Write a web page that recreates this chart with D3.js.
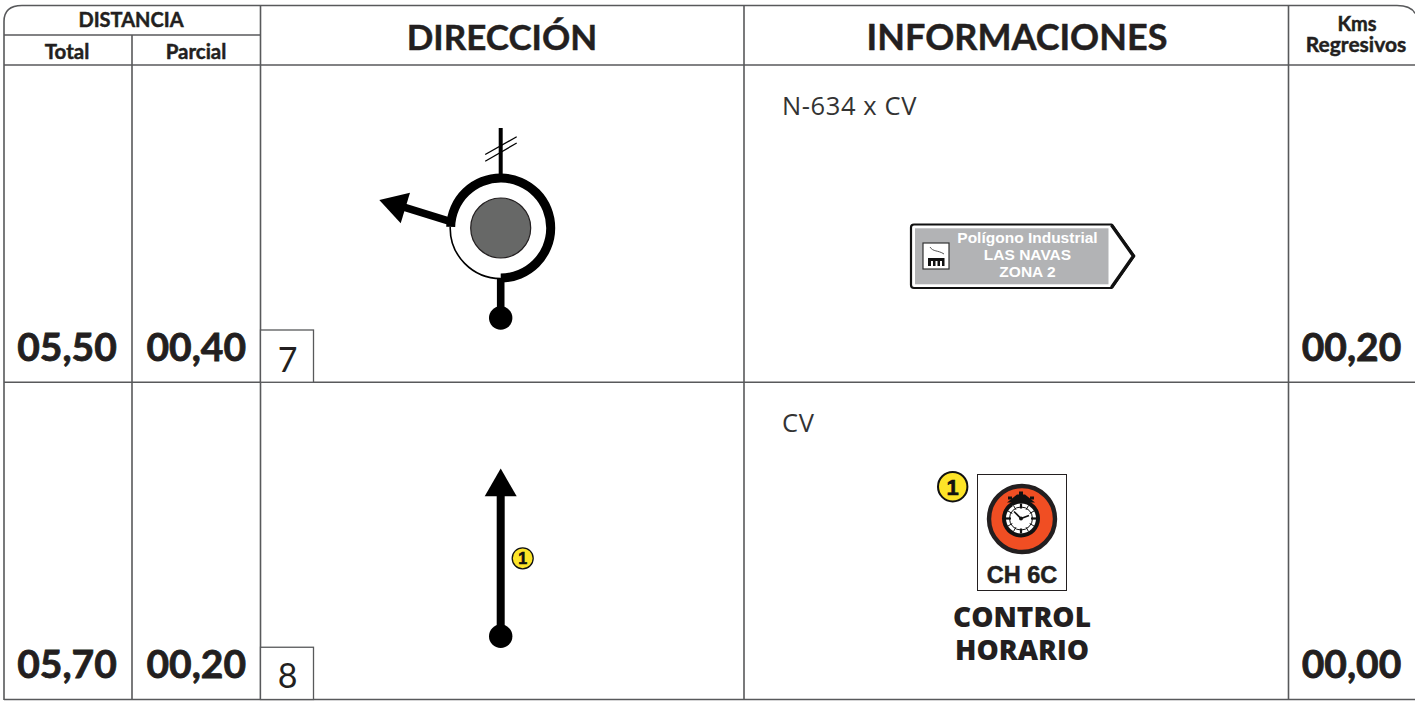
<!DOCTYPE html>
<html>
<head>
<meta charset="utf-8">
<script src="https://cdnjs.cloudflare.com/ajax/libs/d3/7.8.5/d3.min.js"></script>
<style>
html, body { margin: 0; padding: 0; background: #fff; overflow: hidden; }
svg { display: block; }
text { fill: #231f20; font-family: Lato, sans-serif; }
.head { font-weight: 700; stroke: #231f20; stroke-width: 0.45; }
.val { font-weight: 700; font-size: 39px; stroke: #231f20; stroke-width: 0.8; }
.sign { font-family: "Liberation Sans", Arial, sans-serif; font-weight: 700; }
</style>
</head>
<body>
<svg id="chart" width="1415" height="702"></svg>
<script>
var steps = ["7", "8"];
var totals = ["05,50", "05,70"];
var partials = ["00,40", "00,20"];
var regressive = ["00,20", "00,00"];
var roads = ["N-634 x CV", "CV"];
var columns = ["total", "parcial", "direccion", "info", "kms"];
var signLines = ["Polígono Industrial", "LAS NAVAS", "ZONA 2"];
var controlLines = ["CONTROL", "HORARIO"];

var svg = d3.select("#chart");
var lineCol = "#58595b";

var left = 4, right = 1415, top_ = 5.5, headBottom = 65, bottom = 700;

var y = d3.scaleBand().domain(steps).range([headBottom, bottom - 0.5]);
var colX = d3.scaleOrdinal().domain(columns).range([4, 132, 260.5, 744, 1288.5]);
var colEnd = function(c) {
    var i = columns.indexOf(c);
    return i == columns.length - 1 ? 1414.5 : colX(columns[i + 1]);
};

// ----- GRID -----
var grid = svg.append("g").attr("fill", "none").attr("stroke", lineCol).attr("stroke-width", 1.6);

grid.append("path").attr("d",
    "M" + left + " " + bottom + " L" + left + " " + (top_ + 16) +
    " Q" + left + " " + top_ + " " + (left + 18) + " " + top_ +
    " L" + (right - 18) + " " + top_ +
    " Q" + (right - 4) + " " + top_ + " " + right + " " + (top_ + 8));

grid.append("line").attr("x1", left).attr("x2", right).attr("y1", headBottom).attr("y2", headBottom);
grid.append("line").attr("x1", left).attr("x2", colX("direccion")).attr("y1", 35).attr("y2", 35);

grid.selectAll("line.row").data(steps).enter().append("line").attr("class", "row")
    .attr("x1", left).attr("x2", right)
    .attr("y1", function(d) { return y(d) + y.bandwidth(); })
    .attr("y2", function(d) { return y(d) + y.bandwidth(); });

grid.selectAll("line.col").data(["direccion", "info", "kms"]).enter().append("line").attr("class", "col")
    .attr("x1", colX).attr("x2", colX).attr("y1", top_).attr("y2", bottom);
grid.append("line").attr("x1", colX("parcial")).attr("x2", colX("parcial")).attr("y1", 35).attr("y2", bottom);

// ----- HEADERS -----
function head(txt, x, yy, size) {
    svg.append("text").attr("class", "head").attr("text-anchor", "middle")
        .attr("x", x).attr("y", yy).attr("font-size", size).text(txt);
}
head("DISTANCIA", 131, 27, 20);
head("Total", 67, 59, 20.5);
head("Parcial", 196, 59, 20.5);
head("DIRECCIÓN", 502, 50, 35);
head("INFORMACIONES", 1017, 50, 36);
head("Kms", 1357, 31, 20);
head("Regresivos", 1356, 52, 21);

// ----- ROW VALUES -----
var rows = svg.selectAll("g.step").data(steps).enter().append("g").attr("class", "step")
    .attr("transform", function(d) { return "translate(0," + y(d) + ")"; });

function valueColumn(values, col) {
    rows.append("text").attr("class", "val").attr("text-anchor", "middle")
        .attr("x", (colX(col) + colEnd(col)) / 2 + (col == "total" ? -1 : 0))
        .attr("y", 296)
        .text(function(d, i) { return values[i]; });
}
valueColumn(totals, "total");
valueColumn(partials, "parcial");
valueColumn(regressive, "kms");

rows.append("rect")
    .attr("x", colX("direccion")).attr("y", 265).attr("width", 53).attr("height", y.bandwidth() - 265)
    .attr("fill", "#fff").attr("stroke", lineCol).attr("stroke-width", 1.3);
rows.append("text").attr("text-anchor", "middle").attr("font-size", 34)
    .attr("x", colX("direccion") + 27).attr("y", function(d, i) { return 307 - i; })
    .text(function(d) { return d; });
rows.append("text").attr("font-size", 25.5).attr("letter-spacing", 0.6)
    .style("font-family", "'Open Sans', sans-serif").style("fill", "#333")
    .attr("x", 782).attr("y", 50)
    .text(function(d, i) { return roads[i]; });

// ----- DIRECTION: ROUNDABOUT -----
var round = svg.append("g").attr("transform", "translate(500.7," + (y("7") + 163) + ")");
var arc = d3.arc();
round.append("path").attr("fill", "none").attr("stroke", "#000").attr("stroke-width", 1.6)
    .attr("d", arc({ innerRadius: 50.5, outerRadius: 50.5, startAngle: Math.PI, endAngle: 2 * Math.PI - 1.55 }));
round.append("path").attr("fill", "#000")
    .attr("d", arc({ innerRadius: 45.5, outerRadius: 54.5, startAngle: -1.55, endAngle: Math.PI }));
round.append("circle").attr("r", 30).attr("fill", "#676867").attr("stroke", "#231f20").attr("stroke-width", 1.2);
round.append("line").attr("y1", -100).attr("y2", -50).attr("stroke", "#000").attr("stroke-width", 4);
round.selectAll("line.tick").data([0, 1]).enter().append("line").attr("class", "tick")
    .attr("x1", -15.5).attr("x2", 16)
    .attr("y1", function(d) { return d * 6.8 - 73.5; })
    .attr("y2", function(d) { return d * 6.2 - 91.2; })
    .attr("stroke", "#000").attr("stroke-width", 1.3);
round.append("line").attr("y1", 50).attr("y2", 90).attr("stroke", "#000").attr("stroke-width", 7.6);
round.append("circle").attr("cy", 90).attr("r", 11.7).attr("fill", "#000");
round.append("line").attr("x1", -50).attr("y1", -6.3).attr("x2", -96).attr("y2", -20.7)
    .attr("stroke", "#000").attr("stroke-width", 7.5);
round.append("path").attr("fill", "#000").attr("d", "M-121.4 -28 L-90.7 -35.3 L-100 -4.7 Z");

// ----- DIRECTION: STRAIGHT -----
var straight = svg.append("g").attr("transform", "translate(500.7," + y("8") + ")");
straight.append("line").attr("y1", 110).attr("y2", 254).attr("stroke", "#000").attr("stroke-width", 8);
straight.append("path").attr("fill", "#000").attr("d", "M0 86.3 L16 114 L-16 114 Z");
straight.append("circle").attr("cy", 254).attr("r", 11.7).attr("fill", "#000");

function badge(x, yy, r, size) {
    svg.append("circle").attr("cx", x).attr("cy", yy).attr("r", r)
        .attr("fill", "#fde428").attr("stroke", "#111").attr("stroke-width", r > 12 ? 2 : 1.3);
    svg.append("text").attr("class", "sign").attr("text-anchor", "middle")
        .attr("x", x).attr("y", yy + size * 0.36).attr("font-size", size)
        .style("fill", "#111").style("stroke", "#111").style("stroke-width", 0.6).text("1");
}
badge(522.7, 558.3, 10.5, 16);

// ----- INFO: ROAD SIGN -----
var sign = svg.append("g");
sign.append("path").attr("fill", "#fff").attr("stroke", "#111").attr("stroke-width", 2.2).attr("stroke-linejoin", "round")
    .attr("d", "M914 224.5 L1111.5 224.5 L1134 256 L1111.5 288 L914 288 Q911 288 911 285 L911 227.5 Q911 224.5 914 224.5 Z");
sign.append("path").attr("fill", "none").attr("stroke", "#111").attr("stroke-width", 3.4)
    .attr("d", "M1111.5 225 L1133.5 256 L1111.5 287.5");
sign.append("rect").attr("x", 915).attr("y", 228.3).attr("width", 193.5).attr("height", 56).attr("fill", "#b2b3b5");
sign.append("rect").attr("x", 923).attr("y", 243).attr("width", 26).attr("height", 26)
    .attr("fill", "#fff").attr("stroke", "#333").attr("stroke-width", 1.2);
sign.append("path").attr("fill", "#111")
    .attr("d", "M928 266 L928 258 L944.5 258 L944.5 266 L942 266 L942 261 L940 261 L940 266 L937.5 266 L937.5 261 L935.5 261 L935.5 266 L933 266 L933 261 L931 261 L931 266 Z");
sign.append("path").attr("fill", "none").attr("stroke", "#555").attr("stroke-width", 1)
    .attr("d", "M930 247 C933 252 938 250 944 254");
sign.selectAll("text").data(signLines).enter().append("text").attr("class", "sign")
    .attr("text-anchor", "middle").attr("x", 1027.5)
    .attr("y", function(d, i) { return 243 + i * 17; })
    .attr("font-size", 15.5)
    .style("fill", "#fff")
    .text(function(d) { return d; });

// ----- INFO: CONTROL SIGN -----
badge(952.7, 486.7, 14.7, 22);

var ctrl = svg.append("g");
ctrl.append("rect").attr("x", 977.5).attr("y", 474.5).attr("width", 89).attr("height", 116)
    .attr("fill", "#fff").attr("stroke", "#231f20").attr("stroke-width", 1);
ctrl.append("circle").attr("cx", 1022).attr("cy", 519).attr("r", 33)
    .attr("fill", "#f04e23").attr("stroke", "#231f20").attr("stroke-width", 4.4);

var clock = ctrl.append("g").attr("transform", "translate(1021,518.5)");
clock.append("path").attr("fill", "#111")
    .attr("d", "M-13 -19 L-13 -22 L-9 -22 L-9 -19 Z M-2 -23 L-2 -27 L2 -27 L2 -23 Z M9 -19 L9 -22 L13 -22 L13 -19 Z");
clock.append("circle").attr("r", 19).attr("fill", "#111");
clock.append("path").attr("d", "M-14 -16 L14 -16 L4 -24 L-4 -24 Z").attr("fill", "#111");
clock.append("circle").attr("r", 15).attr("fill", "#fff");
clock.append("circle").attr("r", 11.5).attr("fill", "none").attr("stroke", "#111").attr("stroke-width", 1);
clock.selectAll("line.mark").data(d3.range(12)).enter().append("line").attr("class", "mark")
    .attr("x1", function(d) { return 10 * Math.cos(d * Math.PI / 6); })
    .attr("y1", function(d) { return 10 * Math.sin(d * Math.PI / 6); })
    .attr("x2", function(d) { return 15 * Math.cos(d * Math.PI / 6); })
    .attr("y2", function(d) { return 15 * Math.sin(d * Math.PI / 6); })
    .attr("stroke", "#111").attr("stroke-width", function(d) { return d % 3 == 0 ? 2.2 : 1; });
clock.append("path").attr("fill", "none").attr("stroke", "#111").attr("stroke-width", 1.6)
    .attr("d", "M-7 -7 L0 0 L8 -3");
clock.append("circle").attr("r", 2).attr("fill", "#111");

ctrl.append("text").attr("class", "sign").attr("text-anchor", "middle")
    .attr("x", 1022).attr("y", 582.5).attr("font-size", 23.5)
    .style("stroke", "#231f20").style("stroke-width", 0.5).text("CH 6C");

ctrl.selectAll("text.label").data(controlLines).enter().append("text").attr("class", "label")
    .attr("text-anchor", "middle").attr("x", 1022)
    .attr("y", function(d, i) { return 627 + i * 33; })
    .attr("font-size", 28)
    .style("font-family", "'Open Sans', sans-serif").style("font-weight", 800)
    .text(function(d) { return d; });
</script>
</body>
</html>
